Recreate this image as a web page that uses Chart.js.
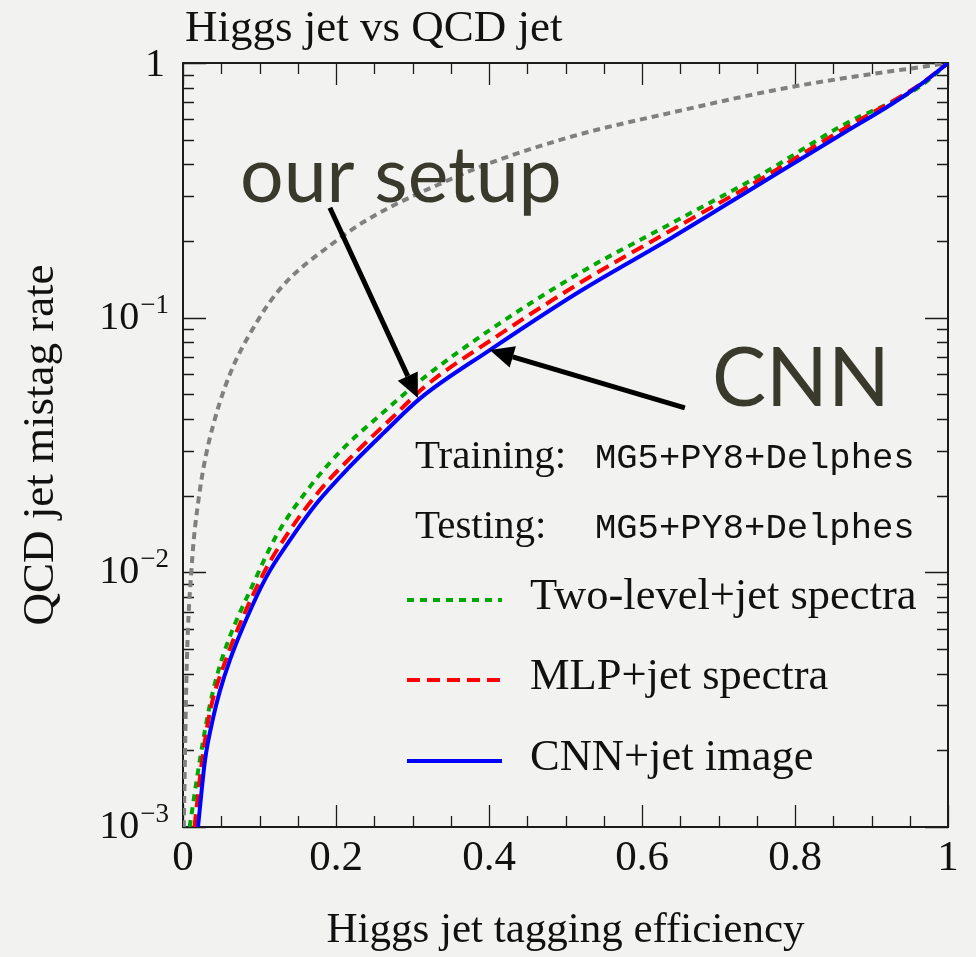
<!DOCTYPE html>
<html>
<head>
<meta charset="utf-8">
<script src="https://cdn.jsdelivr.net/npm/chart.js@4.4.1/dist/chart.umd.min.js"></script>
<style>
  html, body { margin: 0; padding: 0; background: #f2f2f0; }
  #roc { display: block; }
</style>
</head>
<body>
<canvas id="roc" width="976" height="957"></canvas>
<script>
// ROC-кривые: Higgs jet vs QCD jet

const SERIF = '"Liberation Serif", "DejaVu Serif", serif';
const MONO = '"Liberation Mono", "DejaVu Sans Mono", monospace';
const SANS = 'Lato, "Open Sans", sans-serif';

// Подписи
const chartTitle = 'Higgs jet vs QCD jet';
const xTitle = 'Higgs jet tagging efficiency';
const yTitle = 'QCD jet mistag rate';

// Деления осей
const xMajorTicks = [0, 0.2, 0.4, 0.6, 0.8, 1];
const xTickLabels = ['0', '0.2', '0.4', '0.6', '0.8', '1'];
const yMajorTicks = [0.001, 0.01, 0.1, 1];
const yTickBase = ['10', '10', '10', '1'];
const yTickExp = ['\u22123', '\u22122', '\u22121', ''];

// CNN+jet image (синяя сплошная)
const cnnX = [0.0196, 0.0288, 0.0396, 0.048, 0.0614, 0.0833, 0.109, 0.14, 0.175, 0.218, 0.262, 0.31, 0.401, 0.519, 0.64, 0.754, 0.863, 0.928, 0.972, 1];
const cnnY = [0.001, 0.00183, 0.0027, 0.0034, 0.00453, 0.0066, 0.0096, 0.0134, 0.0187, 0.026, 0.0352, 0.0482, 0.0746, 0.127, 0.207, 0.335, 0.53, 0.695, 0.857, 1];

// MLP+jet spectra (красная пунктирная)
const mlpX = [0.015, 0.025, 0.036, 0.056, 0.103, 0.1355, 0.179, 0.227, 0.275, 0.316, 0.401, 0.519, 0.64, 0.754, 0.863, 0.965, 1];
const mlpY = [0.001, 0.00183, 0.0029, 0.00453, 0.0096, 0.014, 0.021, 0.0298, 0.0409, 0.0536, 0.081, 0.137, 0.222, 0.348, 0.55, 0.83, 1];

// Two-level+jet spectra (зелёная точечная)
const twoX = [0.0087, 0.022, 0.035, 0.0505, 0.096, 0.1225, 0.166, 0.2096, 0.253, 0.314, 0.401, 0.519, 0.64, 0.754, 0.863, 0.963, 1];
const twoY = [0.001, 0.00183, 0.003, 0.00453, 0.0096, 0.014, 0.0217, 0.0307, 0.0403, 0.0578, 0.0894, 0.15, 0.236, 0.362, 0.571, 0.807, 1];

// Случайный выбор (серая точечная)
const randX = [0.001, 0.0048, 0.0113, 0.02, 0.0396, 0.1, 0.2, 0.35, 0.493, 0.65, 0.797, 1];
const randY = [0.001, 0.0042, 0.0105, 0.019, 0.038, 0.1, 0.2, 0.35, 0.499, 0.65, 0.807, 1];

// Аннотации (в координатах данных)
const noteSetup = { text: 'our setup', x: 0.0745, y: 0.285, from: [0.192, 0.27], to: [0.307, 0.0484] };
const noteCnn = { text: 'CNN', x: 0.6915, y: 0.0448, from: [0.656, 0.0442], to: [0.401, 0.0746] };

const zip = (xs, ys) => xs.map((x, i) => ({ x: x, y: ys[i] }));

const datasets = [
  { label: 'CNN+jet image', data: zip(cnnX, cnnY), borderColor: '#0000ff', borderWidth: 4, borderDash: [] },
  { label: 'MLP+jet spectra', data: zip(mlpX, mlpY), borderColor: '#ff0000', borderWidth: 4, borderDash: [13, 7] },
  { label: 'Two-level+jet spectra', data: zip(twoX, twoY), borderColor: '#00a800', borderWidth: 4, borderDash: [7, 6] },
  { label: 'random', data: zip(randX, randY), borderColor: '#808080', borderWidth: 4, borderDash: [7, 5] }
].map(d => Object.assign(d, {
  pointRadius: 0, fill: false, cubicInterpolationMode: 'monotone', borderCapStyle: 'butt'
}));

const isXMajor = v => Math.abs(v * 5 - Math.round(v * 5)) < 1e-9;
const yMajorIndex = v => yMajorTicks.findIndex(m => Math.abs(v / m - 1) < 1e-9);

// Рамка и внутренние засечки на всех четырёх сторонах
const frameTicks = {
  id: 'frameTicks',
  beforeDatasetsDraw(chart) {
    const { ctx, chartArea: a, scales: { x, y } } = chart;
    ctx.save();
    ctx.strokeStyle = '#1c1c1c';
    ctx.lineWidth = 1.3;
    ctx.beginPath();
    x.ticks.forEach(t => {
      const px = Math.round(x.getPixelForValue(t.value)) + 0.5;
      const len = isXMajor(t.value) ? 22 : 11;
      ctx.moveTo(px, a.bottom); ctx.lineTo(px, a.bottom - len);
      ctx.moveTo(px, a.top); ctx.lineTo(px, a.top + len);
    });
    y.ticks.forEach(t => {
      const py = Math.round(y.getPixelForValue(t.value)) + 0.5;
      const len = yMajorIndex(t.value) >= 0 ? 23 : 11;
      ctx.moveTo(a.left, py); ctx.lineTo(a.left + len, py);
      ctx.moveTo(a.right, py); ctx.lineTo(a.right - len, py);
    });
    ctx.stroke();
    ctx.lineWidth = 2;
    ctx.strokeRect(a.left, a.top, a.right - a.left, a.bottom - a.top);
    ctx.restore();
  }
};

function arrow(ctx, x0, y0, x1, y1) {
  const ang = Math.atan2(y1 - y0, x1 - x0);
  const head = 24, half = 11;
  const bx = x1 - head * Math.cos(ang), by = y1 - head * Math.sin(ang);
  ctx.beginPath();
  ctx.moveTo(x0, y0);
  ctx.lineTo(bx, by);
  ctx.stroke();
  ctx.beginPath();
  ctx.moveTo(x1, y1);
  ctx.lineTo(bx + half * Math.sin(ang), by - half * Math.cos(ang));
  ctx.lineTo(bx - half * Math.sin(ang), by + half * Math.cos(ang));
  ctx.closePath();
  ctx.fill();
}

// Подписи делений оси Y со степенями
const yLabels = {
  id: 'yLabels',
  afterDraw(chart) {
    const { ctx, chartArea: a, scales: { y } } = chart;
    ctx.save();
    ctx.fillStyle = '#111';
    ctx.textAlign = 'right';
    ctx.textBaseline = 'alphabetic';
    y.ticks.forEach(t => {
      const i = yMajorIndex(t.value);
      if (i < 0) return;
      const py = y.getPixelForValue(t.value);
      const right = a.left - 14;
      if (yTickExp[i]) {
        ctx.font = '27px ' + SERIF;
        const ew = ctx.measureText(yTickExp[i]).width;
        ctx.fillText(yTickExp[i], right, py - 5);
        ctx.font = '40px ' + SERIF;
        ctx.fillText(yTickBase[i], right - ew - 1, py + 11);
      } else {
        ctx.font = '40px ' + SERIF;
        ctx.fillText(yTickBase[i], right - 4, py + 13);
      }
    });
    ctx.restore();
  }
};

// Заголовок, легенда и стрелки
const overlay = {
  id: 'overlay',
  afterDraw(chart) {
    const { ctx, chartArea: a, scales: { x, y } } = chart;
    ctx.save();

    ctx.fillStyle = '#111';
    ctx.textBaseline = 'alphabetic';
    ctx.font = '45px ' + SERIF;
    ctx.fillText(chartTitle, a.left + 2, a.top - 22);

    // легенда
    const lx = a.left + 224, tx = a.left + 347;
    ctx.textBaseline = 'middle';
    ctx.font = '41px ' + SERIF;
    ctx.fillText('Training:', a.left + 232, a.top + 394);
    ctx.fillText('Testing:', a.left + 232, a.top + 464);
    ctx.font = '35.5px ' + MONO;
    ctx.fillText('MG5+PY8+Delphes', a.left + 412, a.top + 396);
    ctx.fillText('MG5+PY8+Delphes', a.left + 412, a.top + 466);

    const rows = [[2, 537], [1, 617], [0, 698]];
    rows.forEach(([i, dy]) => {
      const ds = chart.data.datasets[i];
      ctx.strokeStyle = ds.borderColor;
      ctx.lineWidth = ds.borderWidth;
      ctx.setLineDash(ds.borderDash);
      ctx.beginPath();
      ctx.moveTo(lx, a.top + dy);
      ctx.lineTo(lx + 95, a.top + dy);
      ctx.stroke();
      ctx.setLineDash([]);
      ctx.font = '44.5px ' + SERIF;
      ctx.fillStyle = '#111';
      ctx.fillText(ds.label, tx, a.top + dy - 3);
    });

    // аннотации
    ctx.fillStyle = '#3a3a2c';
    ctx.textBaseline = 'alphabetic';
    ctx.font = '77px ' + SANS;
    ctx.fillText(noteSetup.text, x.getPixelForValue(noteSetup.x), y.getPixelForValue(noteSetup.y));
    ctx.font = '81px ' + SANS;
    ctx.fillText(noteCnn.text, x.getPixelForValue(noteCnn.x), y.getPixelForValue(noteCnn.y));

    ctx.strokeStyle = '#000';
    ctx.fillStyle = '#000';
    ctx.lineWidth = 5;
    [noteSetup, noteCnn].forEach(n => {
      arrow(ctx,
        x.getPixelForValue(n.from[0]), y.getPixelForValue(n.from[1]),
        x.getPixelForValue(n.to[0]), y.getPixelForValue(n.to[1]));
    });
    ctx.restore();
  }
};

const rocChart = new Chart(document.getElementById('roc').getContext('2d'), {
  type: 'line',
  data: { datasets: datasets },
  options: {
    responsive: false,
    animation: false,
    devicePixelRatio: 1,
    layout: { padding: { top: 63, right: 28, left: 0, bottom: 0 } },
    plugins: { legend: { display: false }, title: { display: false }, tooltip: { enabled: false } },
    scales: {
      x: {
        type: 'linear', min: 0, max: 1,
        grid: { display: false, drawTicks: false },
        border: { display: false },
        afterBuildTicks: s => { s.ticks = Array.from({ length: 21 }, (_, i) => ({ value: i / 20 })); },
        afterFit: s => { s.height = 130; },
        ticks: {
          autoSkip: false, maxRotation: 0, padding: 6, color: '#111',
          font: { family: SERIF, size: 43 },
          callback: v => {
            const i = xMajorTicks.findIndex(m => Math.abs(m - v) < 1e-9);
            return i >= 0 ? xTickLabels[i] : '';
          }
        },
        title: { display: true, text: xTitle, color: '#111', font: { family: SERIF, size: 43 }, padding: { top: 0, bottom: 0 } }
      },
      y: {
        type: 'logarithmic', min: 0.001, max: 1,
        grid: { display: false, drawTicks: false },
        border: { display: false },
        afterBuildTicks: s => {
          const vals = [];
          yMajorTicks.slice(0, -1).forEach(d => { for (let m = 1; m < 10; m++) vals.push(d * m); });
          vals.push(1);
          s.ticks = vals.map(v => ({ value: v }));
        },
        afterFit: s => { s.width = 183; },
        ticks: { autoSkip: false, padding: 14, callback: () => '' },
        title: { display: true, text: yTitle, color: '#111', font: { family: SERIF, size: 45 }, padding: { top: 14, bottom: 0 } }
      }
    }
  },
  plugins: [frameTicks, yLabels, overlay]
});
</script>
</body>
</html>
